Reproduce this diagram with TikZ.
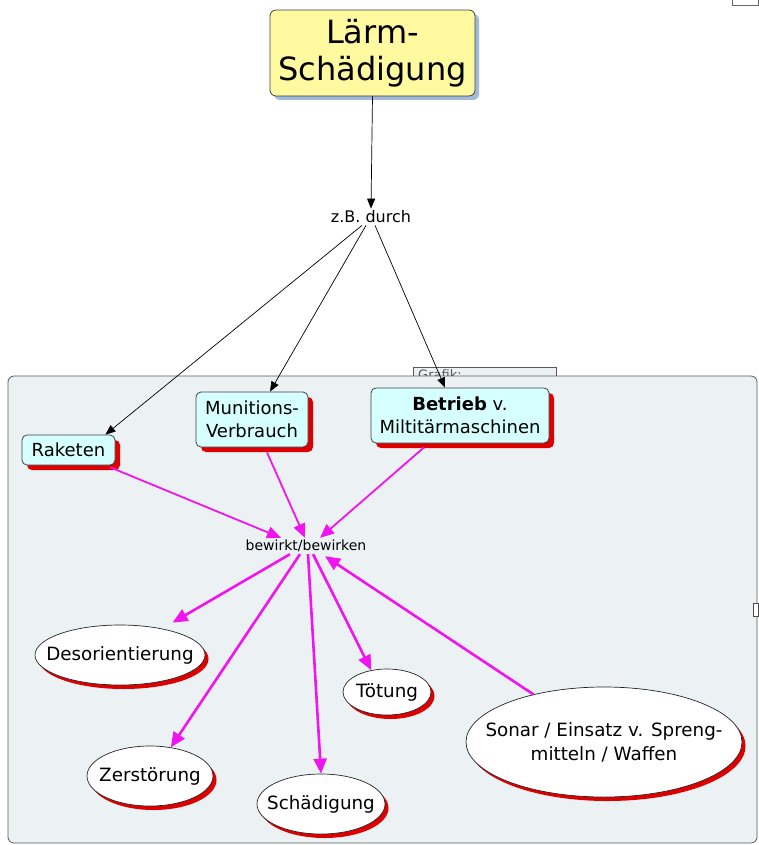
\documentclass[tikz,border=0pt]{standalone}
\usepackage{fontspec}
\setmainfont{DejaVu Sans}
\usetikzlibrary{shapes.geometric,shadows,arrows.meta,calc}
\definecolor{yelbox}{RGB}{255,249,160}
\definecolor{bluesh}{RGB}{160,186,222}
\definecolor{cyanbox}{RGB}{214,255,255}
\definecolor{redsh}{RGB}{222,0,0}
\definecolor{panel}{RGB}{236,242,244}
\definecolor{mag}{RGB}{240,20,240}
\tikzset{
  topbox/.style={draw=black!75, line width=0.8pt, rounded corners=6pt, fill=yelbox,
    align=center, inner sep=0pt, font=\fontsize{32}{37}\selectfont,
    general shadow={fill=bluesh, shadow xshift=4pt, shadow yshift=-4pt}},
  cmap/.style={draw=black!75, line width=0.8pt, rounded corners=5pt, fill=cyanbox,
    align=center, inner sep=0pt, font=\fontsize{18}{23}\selectfont,
    general shadow={fill=redsh, shadow xshift=5pt, shadow yshift=-5pt}},
  ell/.style={ellipse, draw=black!85, line width=0.7pt, fill=white, inner sep=0pt,
    general shadow={fill=redsh, shadow xshift=3.5pt, shadow yshift=-4pt}},
  etext/.style={font=\fontsize{18.3}{24}\selectfont, align=center, inner sep=0pt},
  linktext/.style={inner sep=2pt},
  blk/.style={-{Triangle[length=10pt,width=8pt]}, line width=0.7pt, draw=black},
  magin/.style={draw=mag, line width=1.8pt, -{Triangle[length=14pt,width=12pt]}},
  magout/.style={draw=mag, line width=2.6pt, -{Triangle[length=15pt,width=13pt]}},
}
\begin{document}
\begin{tikzpicture}[x=1pt,y=-1pt]
\useasboundingbox (0,0) rectangle (758,845);
% small artefacts
\draw[black!60, fill=white] (732,-2) rectangle (758,5);
% Grafik box (behind panel)
\node[draw=black!65, line width=0.8pt, fill=panel, minimum width=143pt, minimum height=16pt, anchor=north west, inner sep=0pt] (graf) at (413,367) {};
\node[anchor=north west, inner sep=0pt, font=\fontsize{13}{15}\selectfont, text=black!65] (graft) at (418,369.5) {Grafik:};
% panel
\draw[draw=black!65, line width=0.8pt, fill=panel, rounded corners=6pt] (8,376) rectangle (757,843);
\draw[black!70, fill=white] (753,603) rectangle (758,616);

% nodes
\node[topbox, minimum width=205pt, minimum height=86pt] (top) at (372.5,53) {Lärm-\\Schädigung};
\node[linktext, font=\fontsize{16}{19}\selectfont] (zb) at (371,217) {z.B. durch};
\node[cmap, minimum width=93pt, minimum height=30pt] (rak) at (68.5,450) {Raketen};
\node[cmap, minimum width=112pt, minimum height=55pt] (mun) at (252,419.5) {Munitions-\\Verbrauch};
\node[cmap, minimum width=178pt, minimum height=55pt] (bet) at (460,415.5) {\textbf{Betrieb} v.\\Miltitärmaschinen};
\node[linktext, font=\fontsize{14}{17}\selectfont] (bew) at (306,546) {bewirkt/bewirken};

\node[ell, minimum width=170pt, minimum height=60pt] (des) at (120,655) {};
\node[etext] (dest) at (des) {Desorientierung};
\node[ell, minimum width=88pt, minimum height=46pt] (tot) at (387,692) {};
\node[etext] (tott) at (tot) {Tötung};
\node[ell, minimum width=126pt, minimum height=60pt] (zer) at (150,776) {};
\node[etext] (zert) at (zer) {Zerstörung};
\node[ell, minimum width=128pt, minimum height=60pt] (sch) at (321,804) {};
\node[etext] (scht) at (sch) {Schädigung};
\node[ell, minimum width=276pt, minimum height=110pt] (son) at (604,742) {};
\node[etext] (sont) at (son) {Sonar / Einsatz v. Spreng-\\mitteln / Waffen};

% black connectors
\draw[blk] (top.south) -- (zb.north);
\draw[blk] ([xshift=-9pt]zb.south) -- ([xshift=-10pt]rak.north east);
\draw[blk] ([xshift=-5pt]zb.south) -- ([xshift=18pt]mun.north);
\draw[blk] ([xshift=4pt]zb.south) -- ([xshift=-15pt]bet.north);

% magenta connectors
\draw[magin] ([xshift=-5pt,yshift=-2pt]rak.south east) -- ([xshift=-25pt]bew.north);
\draw[magin] ([xshift=15pt,yshift=-5pt]mun.south) -- ([xshift=-1pt]bew.north);
\draw[magin] ([xshift=-36pt,yshift=-4pt]bet.south) -- ([xshift=14pt]bew.north);

\draw[magout, shorten >=12pt] ([xshift=-16pt]bew.south) -- (des.32);
\draw[magout] ([xshift=-6pt]bew.south) -- (zer.54);
\draw[magout] ([xshift=2pt]bew.south) -- (sch.north);
\draw[magout] ([xshift=7pt]bew.south) -- (tot.126);
\draw[magout] (son.146) -- ([xshift=19pt,yshift=-2pt]bew.south);
\end{tikzpicture}
\end{document}
